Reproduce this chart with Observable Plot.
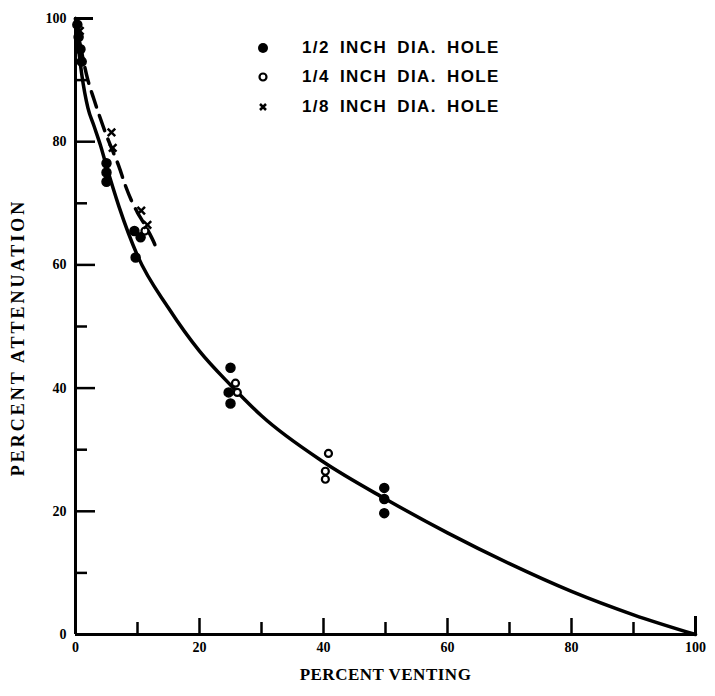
<!DOCTYPE html>
<html><head><meta charset="utf-8">
<script src="https://cdn.jsdelivr.net/npm/d3@7"></script>
<script src="https://cdn.jsdelivr.net/npm/@observablehq/plot@0.6"></script>
<style>
body{margin:0;background:#fff;}
#wrap{position:relative;width:715px;height:696px;overflow:hidden;}
.leg{position:absolute;left:0;top:0;width:715px;height:200px;font-family:"Liberation Sans",Arial,sans-serif;font-weight:bold;font-size:17px;color:#000;}
.row{position:absolute;white-space:nowrap;line-height:14px;}
.txt{position:absolute;left:302px;letter-spacing:1.4px;word-spacing:4px;white-space:nowrap;line-height:20px;}
</style></head><body><div id="wrap"></div>
<script>
// Solid fitted curve (percent venting -> percent attenuation)
const solidX = [0, 0.5, 1, 2, 3, 4, 5, 7, 10, 15, 20, 25, 30, 40, 50, 60, 70, 80, 90, 100];
const solidY = [100, 95, 91, 85.5, 82.5, 79.5, 76, 69.5, 61.5, 53, 46, 40.5, 35.5, 28, 22, 16.5, 11.5, 7, 3.2, 0];
// Dashed curve (1/8 inch)
const dashX = [0, 1, 2, 3, 4, 5, 6, 7, 8, 9, 10, 11, 12, 12.8, 13.2];
const dashY = [100, 94.5, 90, 86.8, 83.8, 81, 78.5, 76, 73, 70.5, 68.5, 66.8, 65, 63.3, 62];
// 1/2 inch dia. hole (filled)
const halfX = [0.3, 0.5, 0.8, 1.0, 5, 5, 5, 9.5, 10.5, 9.7, 25, 24.7, 25, 49.8, 49.8, 49.8];
const halfY = [99, 97, 95, 93, 76.5, 75, 73.5, 65.5, 64.5, 61.2, 43.3, 39.3, 37.5, 23.8, 22, 19.7];
// 1/4 inch dia. hole (open)
const quarterX = [11.2, 25.8, 26.1, 40.8, 40.3, 40.3];
const quarterY = [65.5, 40.8, 39.3, 29.4, 26.5, 25.2];
// 1/8 inch dia. hole (x)
const eighthX = [0.7, 5.8, 6.0, 10.6, 11.6];
const eighthY = [98, 81.5, 79, 68.8, 66.5];
// Axis ticks and labels
const xLabels = [0, 20, 40, 60, 80, 100];
const xMinor = [10, 30, 50, 70, 90];
const xMajor = [20, 40, 60, 80];
const xEnd = [100];
const yLabels = [0, 20, 40, 60, 80, 100];
const yMinor = [10, 30, 50, 70, 90];
const yMajor = [20, 40, 60, 80];
const yEnd = [100];
const legendLabels = ["1/2 INCH DIA. HOLE", "1/4 INCH DIA. HOLE", "1/8 INCH DIA. HOLE"];
const xTitle = "PERCENT VENTING";
const yTitle = "PERCENT ATTENUATION";

const solid = solidX.map((x, i) => ({x, y: solidY[i]}));
const dashed = dashX.map((x, i) => ({x, y: dashY[i]}));
const half = halfX.map((x, i) => ({x, y: halfY[i]}));
const quarter = quarterX.map((x, i) => ({x, y: quarterY[i]}));
const eighth = eighthX.map((x, i) => ({x, y: eighthY[i]}));

const W = 715, H = 696, mL = 75, mR = 20, mT = 18, mB = 62;
const pw = W - mL - mR, ph = H - mT - mB;
const serif = "'Liberation Serif','Times New Roman',serif";

const chart = Plot.plot({
  width: W, height: H,
  marginLeft: mL, marginRight: mR, marginTop: mT, marginBottom: mB,
  x: {domain: [0, 100], axis: null},
  y: {domain: [0, 100], axis: null},
  style: {background: "#fff", color: "#000"},
  marks: [
    Plot.ruleX([0], {stroke: "#000", strokeWidth: 3}),
    Plot.ruleY([0], {stroke: "#000", strokeWidth: 3}),
    Plot.tickX(xMinor, {x: d => d, insetTop: ph - 12, stroke: "#000", strokeWidth: 2.5}),
    Plot.tickX(xMajor, {x: d => d, insetTop: ph - 16, stroke: "#000", strokeWidth: 2.5}),
    Plot.tickX(xEnd, {x: d => d, insetTop: ph - 18, stroke: "#000", strokeWidth: 3}),
    Plot.tickY(yMinor, {y: d => d, insetRight: pw - 12, stroke: "#000", strokeWidth: 2.5}),
    Plot.tickY(yMajor, {y: d => d, insetRight: pw - 20, stroke: "#000", strokeWidth: 2.5}),
    Plot.tickY(yEnd, {y: d => d, insetRight: pw - 18, stroke: "#000", strokeWidth: 3}),
    Plot.axisX({ticks: xLabels, tickSize: 0, tickPadding: 8, label: null, fontSize: 14, fontWeight: "bold", fontFamily: serif, tickFormat: d => String(d)}),
    Plot.axisY({ticks: yLabels, tickSize: 0, tickPadding: 9, label: null, fontSize: 14, fontWeight: "bold", fontFamily: serif, tickFormat: d => String(d)}),
    Plot.text([xTitle], {text: d => d, frameAnchor: "bottom", textAnchor: "middle", dy: 45, fontSize: 17, fontWeight: "bold", fontFamily: serif}),
    Plot.text([yTitle], {text: d => d, frameAnchor: "left", textAnchor: "middle", dx: -57, dy: 11, rotate: -90, fontSize: 18, fontWeight: "bold", fontFamily: serif}),
    Plot.line(solid, {x: "x", y: "y", curve: "monotone-x", stroke: "#000", strokeWidth: 3.5}),
    Plot.line(dashed, {x: "x", y: "y", curve: "catmull-rom", stroke: "#000", strokeWidth: 3.5, strokeDasharray: "16,9"}),
    Plot.dot(half, {x: "x", y: "y", r: 4.5, fill: "#000", stroke: "#000"}),
    Plot.dot(quarter, {x: "x", y: "y", r: 3.5, fill: "#fff", stroke: "#000", strokeWidth: 2.2}),
    Plot.dot(eighth, {x: "x", y: "y", r: 3.5, symbol: "times", stroke: "#000", strokeWidth: 2.5})
  ]
});

// letter spacing for the axis titles
d3.select(chart).selectAll("text").each(function() {
  if (this.textContent === yTitle) this.setAttribute("letter-spacing", "3px");
  if (this.textContent === xTitle) this.setAttribute("letter-spacing", "0.5px");
});

const wrap = document.getElementById("wrap");
wrap.appendChild(chart);

const leg = document.createElement("div");
leg.className = "leg";
const rowsY = [48, 77, 107];
const syms = [
  '<svg width="14" height="14"><circle cx="7" cy="7" r="5" fill="#000"/></svg>',
  '<svg width="14" height="14"><circle cx="7" cy="7" r="3.5" fill="#fff" stroke="#000" stroke-width="2.2"/></svg>',
  '<svg width="14" height="14"><path d="M4,4L10,10M10,4L4,10" stroke="#000" stroke-width="2.5"/></svg>'
];
legendLabels.forEach((t, i) => {
  const s = document.createElement("div");
  s.className = "row";
  s.style.left = "256px"; s.style.top = (rowsY[i] - 7) + "px";
  s.innerHTML = syms[i];
  leg.appendChild(s);
  const tx = document.createElement("div");
  tx.className = "txt";
  tx.style.top = (rowsY[i] - 10) + "px";
  tx.textContent = t;
  leg.appendChild(tx);
});
wrap.appendChild(leg);
</script>
</body></html>
